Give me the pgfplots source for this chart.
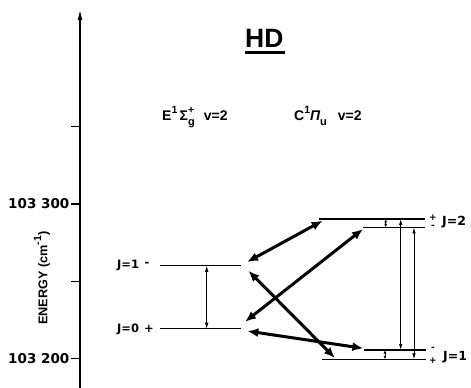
\documentclass[border=0pt]{standalone}
\usepackage{pgfplots}
\pgfplotsset{compat=1.18}
\usepackage{fontspec}
\setmainfont{Liberation Sans}
\newfontfamily\dvs{DejaVu Sans}
\usetikzlibrary{arrows.meta}
\newcommand{\sups}[1]{\raisebox{0.5em}{\fontsize{10.5}{11}\selectfont #1}}
\newcommand{\subs}[1]{\raisebox{-0.3em}{\fontsize{11}{12}\selectfont #1}}
\newcommand{\jfont}{\dvs\bfseries\fontsize{11.5}{12}\selectfont}
\begin{document}
\begin{tikzpicture}[x=1pt,y=1pt]
\useasboundingbox (0,0) rectangle (471,388);
\begin{axis}[
  at={(80pt,0pt)}, anchor=south west,
  scale only axis, width=391pt, height=378pt,
  xmin=80, xmax=471, ymin=103180.8, ymax=103425.7,
  axis x line=none, axis y line=left,
  xtick=\empty,
  every outer y axis line/.append style={-{Latex[length=10pt,width=5pt]}},
  y axis line style={line width=1.2pt},
  ytick={103200,103250,103300,103350},
  yticklabels={{103 200},,{103 300},},
  scaled y ticks=false,
  tick align=outside, major tick length=8.5pt,
  ytick style={line width=1.1pt, black},
  yticklabel style={font=\dvs\bfseries\fontsize{13.5}{14}\selectfont, inner sep=2pt},
  clip=false,
  lvl/.style={black, line width=1.3pt},
  big/.style={black, line width=3pt, {Latex[length=11pt,width=9pt]}-{Latex[length=11pt,width=9pt]}},
  thin/.style={black, line width=0.75pt, {Latex[length=6pt,width=3.5pt]}-{Latex[length=6pt,width=3.5pt]}},
  tiny/.style={black, line width=0.75pt, {Latex[length=3.5pt,width=3pt]}-{Latex[length=3.5pt,width=3pt]}},
]
% energy levels
\addplot[lvl] coordinates {(160,103260.0) (241,103260.0)};
\addplot[lvl] coordinates {(160,103219.2) (241,103219.2)};
\addplot[lvl] coordinates {(319,103290.3) (425,103290.3)};
\addplot[lvl] coordinates {(363,103284.8) (425,103284.8)};
\addplot[lvl] coordinates {(364,103205.4) (426,103205.4)};
\addplot[lvl] coordinates {(322,103199.4) (426,103199.4)};
% thick transitions
\addplot[big] coordinates {(247,103262.4) (322.7,103289.2)};
\addplot[big] coordinates {(245,103223.7) (363,103283.8)};
\addplot[big] coordinates {(248.3,103256.8) (335,103200.2)};
\addplot[big] coordinates {(247.3,103217.7) (363.3,103206.5)};
% thin splittings
\addplot[thin] coordinates {(206.7,103260.0) (206.7,103219.2)};
\addplot[tiny] coordinates {(385.7,103290.3) (385.7,103284.8)};
\addplot[thin] coordinates {(400.7,103290.3) (400.7,103205.4)};
\addplot[thin] coordinates {(414,103284.8) (414,103199.4)};
\addplot[tiny] coordinates {(385,103205.4) (385,103199.4)};
% texts
\node[anchor=base west, inner sep=0, font=\bfseries\fontsize{26.5}{28}\selectfont] at (245,103401.1) {\rlap{\rule[-6pt]{40pt}{2.5pt}}HD};
\node[anchor=base west, inner sep=0, font=\bfseries\fontsize{14}{16}\selectfont] at (162,103353.8) {E\sups{1}\,Σ\rlap{\sups{+}}\subs{g}\hspace{9pt}v=2};
\node[anchor=base west, inner sep=0, font=\bfseries\fontsize{14}{16}\selectfont] at (294,103353.8) {C\sups{1}{\itshape Π}\subs{u}\hspace{11pt}v=2};
\node[rotate=90, inner sep=0, font=\bfseries\fontsize{12.7}{13}\selectfont] at (42,103252.0) {ENERGY (cm\sups{-1})};
\node[anchor=base west, inner sep=0, font=\jfont] at (117,103257.9) {J=1};
\node[inner sep=0, font=\jfont] at (147,103260.8) {-};
\node[anchor=base west, inner sep=0, font=\jfont] at (117,103216.7) {J=0};
\node[inner sep=0, font=\jfont] at (149,103219.2) {+};
\node[anchor=base west, inner sep=0, font=\dvs\bfseries\fontsize{12.5}{13}\selectfont] at (442,103286.4) {J=2};
\node[anchor=base west, inner sep=0, font=\dvs\bfseries\fontsize{12.5}{13}\selectfont] at (443,103198.3) {J=1};
\node[inner sep=0, font=\dvs\bfseries\fontsize{9}{9}\selectfont] at (433,103291.2) {+};
\node[inner sep=0, font=\dvs\bfseries\fontsize{9}{9}\selectfont] at (433,103285.5) {-};
\node[inner sep=0, font=\dvs\bfseries\fontsize{9}{9}\selectfont] at (433,103206.2) {-};
\node[inner sep=0, font=\dvs\bfseries\fontsize{9}{9}\selectfont] at (433,103198.8) {+};
\end{axis}
\end{tikzpicture}
\end{document}
